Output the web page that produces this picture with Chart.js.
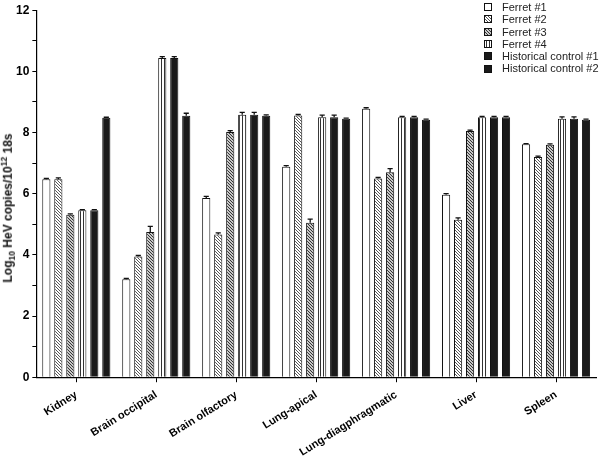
<!DOCTYPE html>
<html>
<head>
<meta charset="utf-8">
<script src="https://cdn.jsdelivr.net/npm/chart.js@4/dist/chart.umd.min.js"></script>
<style>
html, body { margin: 0; padding: 0; background: #fff; }
#wrap { position: relative; width: 600px; height: 456px; }
#legend { position: absolute; left: 484px; top: 1px; font: 11px 'Liberation Sans', Arial, sans-serif; color: #222; }
#legend .row { height: 12.3px; line-height: 12.3px; display: flex; align-items: center; white-space: nowrap; }
#legend canvas { margin-right: 10px; }
#ytitle { position: absolute; left: 8px; top: 208px; transform: translate(-50%, -50%) rotate(-90deg); white-space: nowrap;
          font: bold 12px 'Liberation Sans', Arial, sans-serif; color: #111; }
#ytitle sub, #ytitle sup { font-size: 8.5px; }
</style>
</head>
<body>
<div id="wrap">
  <canvas id="chart" width="600" height="456"></canvas>
  <div id="ytitle">Log<sub>10</sub> HeV copies/10<sup>12</sup> 18s</div>
  <div id="legend"></div>
</div>
<script>
// categories and series
const tissues = ['Kidney', 'Brain occipital', 'Brain olfactory', 'Lung-apical', 'Lung-diagphragmatic', 'Liver', 'Spleen'];
const seriesNames = ['Ferret #1', 'Ferret #2', 'Ferret #3', 'Ferret #4', 'Historical control #1', 'Historical control #2'];

const ferret1 = [6.47, 3.2, 5.86, 6.88, 8.78, 5.97, 7.62];
const ferret2 = [6.47, 3.95, 4.67, 8.56, 6.5, 5.15, 7.2];
const ferret3 = [5.31, 4.75, 8.02, 5.05, 6.7, 8.05, 7.6];
const ferret4 = [5.46, 10.44, 8.58, 8.5, 8.5, 8.5, 8.45];
const control1 = [5.46, 10.44, 8.58, 8.5, 8.5, 8.5, 8.45];
const control2 = [8.48, 8.55, 8.55, 8.45, 8.42, 8.5, 8.42];

// upper error (SEM) per bar
const ferret1Err = [0.03, 0.03, 0.05, 0.04, 0.03, 0.03, 0.02];
const ferret2Err = [0.05, 0.03, 0.05, 0.03, 0.03, 0.06, 0.03];
const ferret3Err = [0.03, 0.18, 0.04, 0.12, 0.12, 0.03, 0.03];
const ferret4Err = [0.02, 0.04, 0.08, 0.07, 0.03, 0.03, 0.06];
const control1Err = [0.02, 0.04, 0.08, 0.07, 0.03, 0.03, 0.06];
const control2Err = [0.02, 0.08, 0.03, 0.02, 0.02, 0.03, 0.02];

function makePattern(kind) {
    const c = document.createElement('canvas');
    const w = 3, h = 3;
    c.width = w; c.height = h;
    const g = c.getContext('2d');
    if (kind === 'white') {
        g.fillStyle = '#fff'; g.fillRect(0, 0, w, h);
    } else if (kind === 'diagLight') {
        g.fillStyle = '#fff'; g.fillRect(0, 0, w, h);
        g.fillStyle = '#555';
        for (let i = 0; i < 3; i++) g.fillRect(i, i, 1, 1);
    } else if (kind === 'diagDark') {
        g.fillStyle = '#c8c8c8'; g.fillRect(0, 0, w, h);
        g.fillStyle = '#333';
        for (let i = 0; i < 3; i++) g.fillRect(i, i, 1, 1);
    } else if (kind === 'vert') {
        g.fillStyle = '#fff'; g.fillRect(0, 0, w, h);
        g.fillStyle = '#333'; g.fillRect(2, 0, 1, h);
    } else {
        g.fillStyle = '#1a1a1a'; g.fillRect(0, 0, w, h);
    }
    return g.createPattern(c, 'repeat');
}

const fills = ['white', 'diagLight', 'diagDark', 'vert', 'black', 'black'];
const values = [ferret1, ferret2, ferret3, ferret4, control1, control2];
const errors = [ferret1Err, ferret2Err, ferret3Err, ferret4Err, control1Err, control2Err];

const datasets = seriesNames.map((name, i) => ({
    label: name,
    data: values[i],
    errors: errors[i],
    backgroundColor: makePattern(fills[i]),
    borderColor: '#111',
    borderWidth: 1,
    categoryPercentage: 0.9,
    barPercentage: 0.68
}));

// draw the upper error bars from the bar elements and the y scale
const errorBars = {
    id: 'errorBars',
    afterDatasetsDraw(chart) {
        const ctx = chart.ctx;
        const y = chart.scales.y;
        chart.data.datasets.forEach((ds, i) => {
            const meta = chart.getDatasetMeta(i);
            meta.data.forEach((bar, j) => {
                const err = ds.errors[j];
                if (!err) return;
                const top = y.getPixelForValue(ds.data[j] + err);
                const half = bar.width / 2 - 1.5;
                ctx.save();
                ctx.strokeStyle = '#111';
                ctx.lineWidth = 1.3;
                ctx.beginPath();
                ctx.moveTo(bar.x, bar.y);
                ctx.lineTo(bar.x, top);
                ctx.moveTo(bar.x - half, top);
                ctx.lineTo(bar.x + half, top);
                ctx.stroke();
                ctx.restore();
            });
        });
    }
};

const tickFont = { family: "'Liberation Sans', Arial, sans-serif", size: 11, weight: 'bold' };

new Chart(document.getElementById('chart').getContext('2d'), {
    type: 'bar',
    data: { labels: tissues, datasets: datasets },
    options: {
        responsive: false,
        animation: false,
        layout: { padding: { top: 0, right: 4, left: 13, bottom: -9 } },
        plugins: {
            legend: { display: false },
            tooltip: { enabled: false }
        },
        scales: {
            x: {
                ticks: { minRotation: 32, maxRotation: 32, font: tickFont, color: '#000', padding: 6 },
                grid: { offset: false, drawOnChartArea: false, tickLength: 5, color: '#000' },
                border: { color: '#000', width: 1.2 }
            },
            y: {
                min: 0,
                max: 12,
                ticks: {
                    stepSize: 1,
                    callback: v => (v % 2 === 0 ? v : ''),
                    font: { family: "'Liberation Sans', Arial, sans-serif", size: 12, weight: 'bold' },
                    color: '#000',
                    padding: 3
                },
                grid: { drawOnChartArea: false, tickLength: 4, color: '#000' },
                border: { color: '#000', width: 1.2 }
            }
        }
    },
    plugins: [errorBars]
});

// legend, top right
const legend = document.getElementById('legend');
seriesNames.forEach((name, i) => {
    const row = document.createElement('div');
    row.className = 'row';
    const sw = document.createElement('canvas');
    sw.width = 8; sw.height = 8;
    const g = sw.getContext('2d');
    g.fillStyle = makePattern(fills[i]);
    g.fillRect(0, 0, 8, 8);
    g.strokeStyle = '#111';
    g.lineWidth = 1;
    g.strokeRect(0.5, 0.5, 7, 7);
    row.appendChild(sw);
    const label = document.createElement('span');
    label.textContent = name;
    row.appendChild(label);
    legend.appendChild(row);
});
</script>
</body>
</html>
